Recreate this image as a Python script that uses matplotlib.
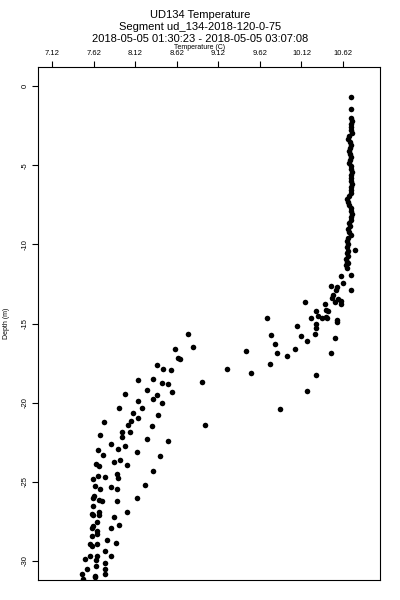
import matplotlib
matplotlib.use('Agg')
import matplotlib.pyplot as plt

plt.rcParams['font.family'] = ['Liberation Sans', 'DejaVu Sans']

# upper mixed layer column
col_depth = [-0.70, -1.46, -2.03, -2.22, -2.41, -2.60, -2.78, -2.97, -3.17, -3.36, -3.54, -3.73,
             -3.92, -4.11, -4.30, -4.49, -4.68, -4.87, -5.06, -5.25, -5.44, -5.63, -5.82, -6.01,
             -6.20, -6.39, -6.58, -6.77, -6.96, -7.15, -7.34, -7.53, -7.72, -7.91, -8.10, -8.29,
             -8.48, -8.67, -8.86, -9.05, -9.24, -9.43, -9.62, -9.81, -10.00, -10.19, -10.38, -10.45,
             -10.57, -10.76, -10.95, -11.14, -11.20, -11.33, -11.52]
col_temp = [10.72, 10.72, 10.72, 10.73, 10.72, 10.71, 10.72, 10.73, 10.69, 10.68, 10.70, 10.71,
            10.70, 10.69, 10.70, 10.71, 10.70, 10.69, 10.71, 10.72, 10.73, 10.72, 10.71, 10.72,
            10.73, 10.72, 10.71, 10.72, 10.69, 10.67, 10.68, 10.69, 10.71, 10.72, 10.73, 10.72,
            10.71, 10.69, 10.70, 10.68, 10.69, 10.71, 10.68, 10.67, 10.68, 10.67, 10.76, 10.68,
            10.67, 10.68, 10.66, 10.67, 10.68, 10.66, 10.67]

# thermocline and below
low_depth = [-12.03, -11.96, -12.47, -12.60, -12.72, -12.91, -12.91, -13.23, -13.36, -13.42,
             -13.67, -13.55, -13.74, -13.67, -14.18, -14.12, -14.50, -14.62, -14.62, -14.62,
             -14.75, -13.74, -14.18, -14.56, -14.88, -14.62, -15.13, -15.00, -15.26, -15.64,
             -15.76, -16.08, -15.89, -16.84, -15.70, -16.27, -16.84, -16.58, -17.03, -17.53,
             -16.71, -18.10, -17.85, -18.23, -19.24, -20.38, -15.64, -16.46, -18.67, -21.40,
             -16.58, -17.22, -17.15, -17.60, -17.85, -17.91, -18.55, -18.48, -18.74, -18.80,
             -19.18, -19.31, -19.50, -19.75, -19.43, -19.88, -20.00, -20.32, -20.32, -20.64,
             -20.76, -20.95, -21.14, -21.21, -21.40, -21.46, -21.84, -22.16, -21.84, -22.03,
             -22.28, -22.41, -22.60, -22.72, -22.98, -22.91, -23.10, -23.29, -23.86, -23.99,
             -23.74, -23.61, -23.93, -23.36, -24.31, -25.19, -26.02, -26.90, -24.62, -24.81,
             -24.69, -24.50, -24.75, -25.26, -25.45, -25.32, -25.45, -25.89, -26.02, -26.14,
             -26.21, -26.21, -26.52, -27.03, -27.09, -26.90, -27.09, -27.54, -27.22, -27.73,
             -27.92, -27.92, -27.79, -28.11, -28.30, -28.42, -28.67, -28.86, -28.93, -29.05,
             -28.93, -29.37, -29.69, -29.88, -29.69, -29.69, -29.94, -30.13, -30.32, -30.51,
             -30.51, -30.83, -30.83, -31.14, -30.95, -31.02]
low_temp = [10.60, 10.71, 10.62, 10.48, 10.55, 10.54, 10.71, 10.50, 10.49, 10.56,
            10.52, 10.59, 10.60, 10.16, 10.30, 10.42, 10.32, 10.37, 10.24, 10.43,
            10.55, 10.40, 10.44, 10.42, 10.55, 9.71, 10.07, 10.30, 10.30, 10.28,
            10.12, 10.19, 10.52, 10.47, 9.75, 9.80, 9.82, 10.04, 9.95, 9.74,
            9.45, 9.51, 9.23, 10.30, 10.19, 9.86, 8.75, 8.82, 8.92, 8.96,
            8.60, 8.66, 8.63, 8.38, 8.46, 8.55, 8.15, 8.33, 8.44, 8.51,
            8.26, 8.56, 8.38, 8.34, 8.00, 8.15, 8.44, 8.20, 7.92, 8.09,
            8.39, 8.15, 8.07, 7.74, 8.03, 8.32, 7.96, 7.96, 8.06, 7.70,
            8.26, 8.52, 7.83, 8.00, 7.67, 7.91, 8.14, 7.73, 7.65, 7.68,
            7.86, 7.94, 8.02, 8.42, 8.33, 8.24, 8.14, 8.02, 7.67, 7.61,
            7.76, 7.90, 7.91, 7.64, 7.70, 7.83, 7.90, 7.62, 7.61, 7.68,
            7.72, 7.90, 7.61, 7.60, 7.61, 7.68, 7.68, 7.66, 7.86, 7.92,
            7.83, 7.60, 7.61, 7.66, 7.66, 7.60, 7.78, 7.89, 7.58, 7.60,
            7.66, 7.76, 7.83, 7.52, 7.58, 7.66, 7.65, 7.76, 7.65, 7.54,
            7.76, 7.76, 7.48, 7.49, 7.64, 7.64]

xticks = [7.12, 7.62, 8.12, 8.62, 9.12, 9.62, 10.12, 10.62]
yticks = [0, -5, -10, -15, -20, -25, -30]

fig = plt.figure(figsize=(4, 6), dpi=100)
ax = fig.add_axes([0.095, 0.0333, 0.855, 0.855])

ax.scatter(col_temp, col_depth, s=16, color='black', linewidths=0)
ax.scatter(low_temp, low_depth, s=16, color='black', linewidths=0)

ax.set_xlim(6.952, 11.064)
ax.set_ylim(-31.2, 1.2)

ax.xaxis.tick_top()
ax.set_xticks(xticks)
ax.set_xticklabels([f'{t:.2f}' for t in xticks], fontsize=5.5)
ax.set_yticks(yticks)
ax.set_yticklabels([str(t) for t in yticks], fontsize=5.5, rotation=90, va='center')
ax.tick_params(length=4, width=0.8, pad=3)
for sp in ax.spines.values():
    sp.set_linewidth(0.8)

ax.set_ylabel('Depth (m)', fontsize=5, labelpad=8)

fig.text(0.5, 1 - 15 / 600, 'UD134 Temperature', ha='center', va='center', fontsize=8)
fig.text(0.5, 1 - 27 / 600, 'Segment ud_134-2018-120-0-75', ha='center', va='center', fontsize=8)
fig.text(0.5, 1 - 39 / 600, '2018-05-05 01:30:23 - 2018-05-05 03:07:08', ha='center', va='center', fontsize=8)
fig.text(0.5, 1 - 47.5 / 600, 'Temperature (C)', ha='center', va='center', fontsize=5)

fig.savefig('out.png', dpi=100)
